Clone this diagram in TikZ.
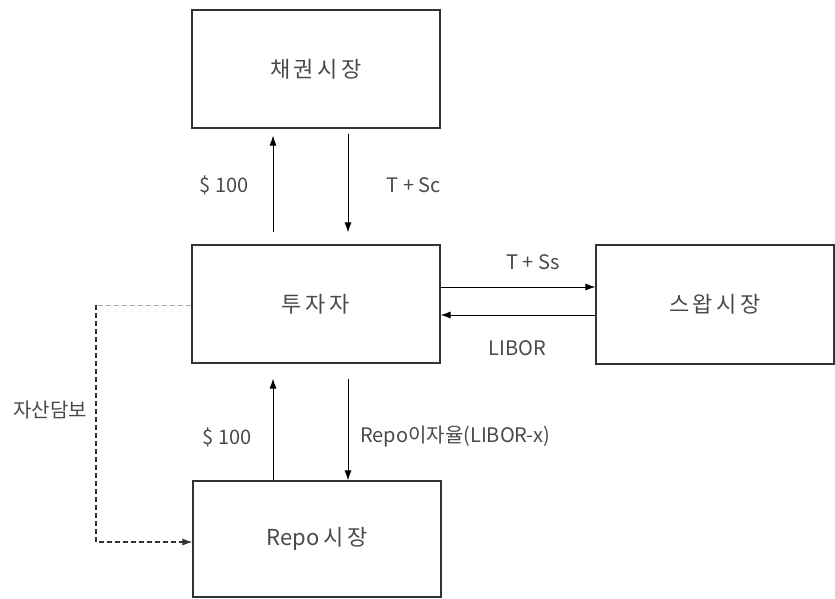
\documentclass[tikz,border=0pt]{standalone}
\usepackage{fontspec}
\setmainfont{Noto Sans CJK KR}
\usetikzlibrary{arrows.meta}
\definecolor{txt}{HTML}{4A4A4A}
\definecolor{edge}{HTML}{333333}
\tikzset{
  box/.style={draw=edge, line width=1.1pt, minimum width=248pt, minimum height=118pt, inner sep=0pt, text=txt, font=\fontsize{22}{26}\selectfont},
  lbl/.style={text=txt, inner sep=0pt, font=\fontsize{20}{24}\selectfont},
  arr/.style={draw=black, line width=1pt, -{Latex[length=10pt,width=7pt]}},
  dashlight/.style={draw=gray!70, line width=0.8pt, dash pattern=on 5pt off 3pt},
  dashdark/.style={draw=black!80, line width=1.2pt, dash pattern=on 5pt off 3pt, -{Latex[length=10pt,width=7pt]}}
}
\begin{document}
\begin{tikzpicture}[x=1pt,y=-1pt]
\useasboundingbox (0,0) rectangle (835,599);
\node[box] (bond) at (316,69) {채\,권\,시\,장};
\node[box] (inv) at (316,304) {투\,자\,자};
\node[box, minimum width=238pt, minimum height=119pt] (swap) at (715,304.5) {스\,왑\,시\,장};
\node[box, minimum height=116pt] (repo) at (317,539) {Repo\,시\,장};
\coordinate (xL) at (273,0);
\coordinate (xR) at (348,0);
\coordinate (yA) at (0,287);
\coordinate (yB) at (0,315);
\coordinate (dc) at (96,542);
\coordinate (dt) at (96,305);
% upper arrows
\draw[arr, shorten <=12pt, shorten >=7pt] (inv.north -| xL) -- (bond.south -| xL);
\draw[arr, shorten <=5pt, shorten >=12pt] (bond.south -| xR) -- (inv.north -| xR);
% horizontal
\draw[arr] (inv.east |- yA) -- (swap.west |- yA);
\draw[arr] (swap.west |- yB) -- (inv.east |- yB);
% lower arrows
\draw[arr, shorten >=15pt] (repo.north -| xL) -- (inv.south -| xL);
\draw[arr, shorten <=15pt] (inv.south -| xR) -- (repo.north -| xR);
% dashed collateral
\draw[dashlight] (inv.west |- dt) -- (dt);
\draw[dashdark] (dt) -- (dc) -- (repo.west |- dc);
% labels
\node[lbl] (l1) at (224,185) {\$ 100};
\node[lbl] (l2) at (414,185) {T + Sc};
\node[lbl] (l3) at (533,262) {T + Ss};
\node[lbl] (l4) at (517,348) {LIBOR};
\node[lbl] (l5) at (227,437) {\$ 100};
\node[lbl, anchor=west] (l6) at (360,437) {Repo이자율(LIBOR-x)};
\node[lbl] (l7) at (50,410) {자산담보};
\end{tikzpicture}
\end{document}
